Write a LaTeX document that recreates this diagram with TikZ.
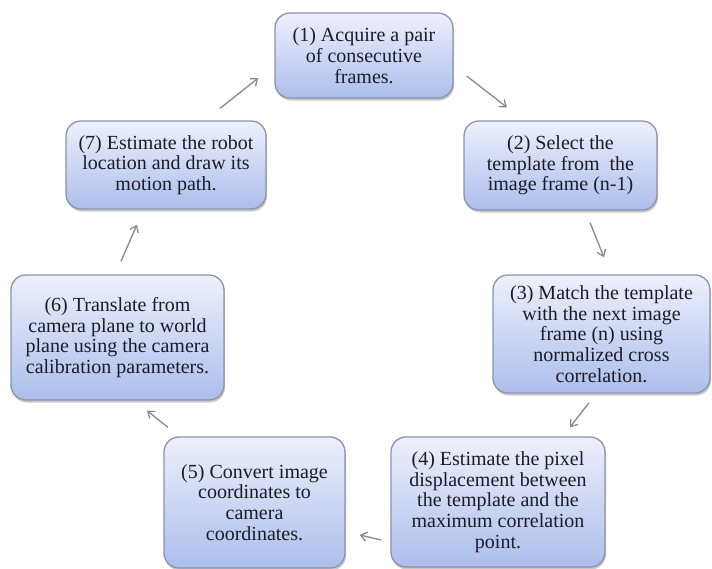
\documentclass[tikz,border=0pt]{standalone}
\usepackage{fontspec}
\setmainfont{Liberation Serif}
\usetikzlibrary{calc,arrows.meta,shadows}
\definecolor{boxtop}{RGB}{238,240,252}
\definecolor{boxbot}{RGB}{172,190,236}
\definecolor{boxline}{RGB}{140,148,172}
\definecolor{txt}{RGB}{28,28,40}
\definecolor{arrgray}{RGB}{135,138,145}
\tikzset{
  stepbox/.style={draw=boxline, line width=1.3pt, rounded corners=15pt,
    top color=boxtop, bottom color=boxbot, inner sep=0pt, align=center,
    text=txt, font=\fontsize{20}{20.7}\selectfont,
    drop shadow={shadow xshift=1pt, shadow yshift=-2.5pt, opacity=0.35, fill=black!60}},
  arr/.style={draw=arrgray, line width=1.3pt, -{Straight Barb[length=6pt,width=9pt]}}
}
\begin{document}
\begin{tikzpicture}[x=1pt,y=-1pt]
\fill[white] (0,0) rectangle (712,568);
\useasboundingbox (0,0) rectangle (712,568);
\node[stepbox, minimum width=178pt, minimum height=85pt] (n1) at (364,55.5)
  {(1) Acquire a pair\\of consecutive\\frames.};
\node[stepbox, minimum width=193pt, minimum height=89pt] (n2) at (560.5,165.5)
  {(2) Select the\\template from\ \ the\\image frame (n-1)};
\node[stepbox, minimum width=217pt, minimum height=118pt] (n3) at (601.5,334)
  {(3) Match the template\\with the next image\\frame (n) using\\normalized cross\\correlation.};
\node[stepbox, minimum width=214pt, minimum height=130pt] (n4) at (498,502)
  {(4) Estimate the pixel\\displacement between\\the template and the\\maximum correlation\\point.};
\node[stepbox, minimum width=181pt, minimum height=131pt] (n5) at (254.5,502.5)
  {(5) Convert image\\coordinates to\\camera\\coordinates.};
\node[stepbox, minimum width=213pt, minimum height=125pt] (n6) at (117.5,337.5)
  {(6) Translate from\\camera plane to world\\plane using the camera\\calibration parameters.};
\node[stepbox, minimum width=200pt, minimum height=88pt] (n7) at (166,165)
  {(7) Estimate the robot\\location and draw its\\motion path.};
\draw[arr] ($(n1.east)+(13,20.5)$) -- ($(n2.north)+(-53.5,-13)$);
\draw[arr] ($(n2.south)+(29.5,12)$) -- ($(n3.north)+(2.5,-17)$);
\draw[arr] ($(n3.south)+(-12.5,9)$) -- ($(n4.north)+(72,-9)$);
\draw[arr] ($(n4.west)+(-9,38)$) -- ($(n5.east)+(14,32.5)$);
\draw[arr] ($(n5.north)+(-86.5,-9)$) -- ($(n6.south)+(29.5,10)$);
\draw[arr] ($(n6.north)+(3.5,-13)$) -- ($(n7.south)+(-29,15)$);
\draw[arr] ($(n7.north)+(54,-12)$) -- ($(n1.west)+(-16,22.5)$);
\end{tikzpicture}
\end{document}
